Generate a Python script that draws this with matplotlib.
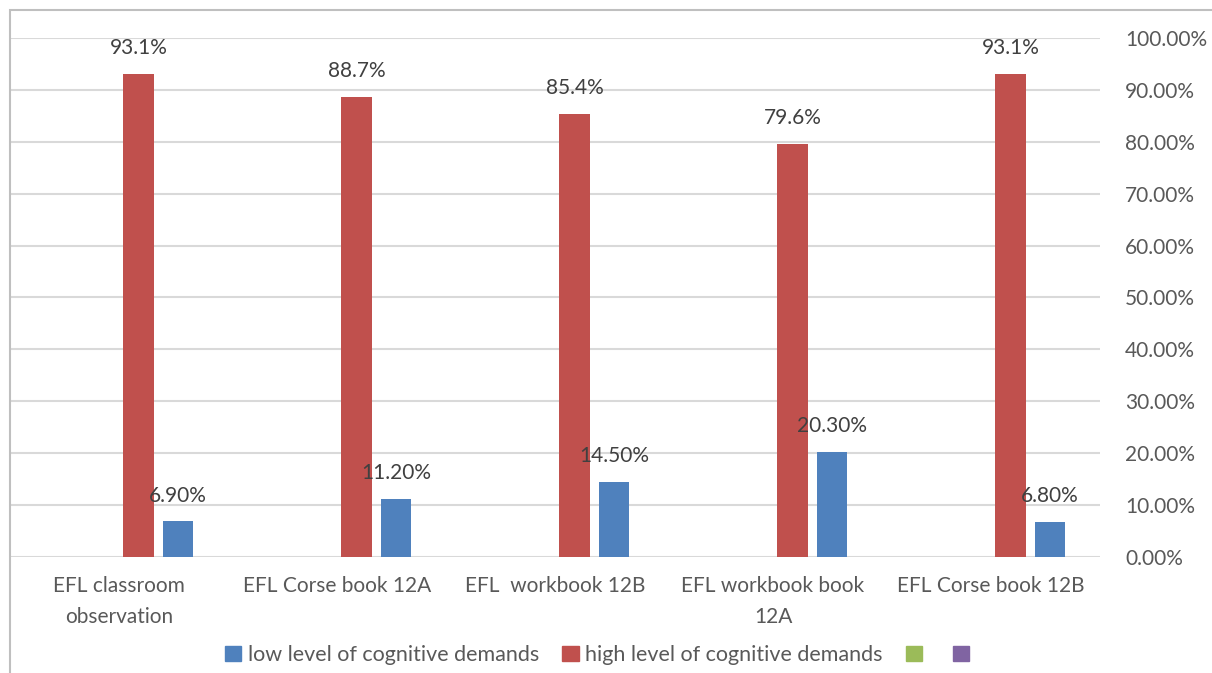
import matplotlib.pyplot as plt
import numpy as np
from matplotlib.patches import Rectangle, Patch

categories = ["EFL classroom\nobservation", "EFL Corse book 12A", "EFL  workbook 12B",
              "EFL workbook book\n12A", "EFL Corse book 12B"]
low = [0.069, 0.112, 0.145, 0.203, 0.068]
high = [0.931, 0.887, 0.854, 0.796, 0.931]
low_labels = ["6.90%", "11.20%", "14.50%", "20.30%", "6.80%"]
high_labels = ["93.1%", "88.7%", "85.4%", "79.6%", "93.1%"]
yticks = np.arange(0, 1.01, 0.1)

plt.rcParams['font.family'] = ['Lato', 'DejaVu Sans']
txt = '#595959'
fs = 15

fig = plt.figure(figsize=(12.12, 6.73), dpi=100)
W, H = 1212, 673
ax = fig.add_axes([10/W, 1 - 557/H, 1090/W, (557 - 38)/H])

x = np.arange(len(categories))
bw = 0.14
ax.bar(x + 0.09, high, bw, color='#c0504d', zorder=3)
ax.bar(x + 0.27, low, bw, color='#4f81bd', zorder=3)

for i in range(len(x)):
    ax.text(x[i] + 0.09, high[i] + 0.03, high_labels[i], ha='center', va='bottom',
            fontsize=fs, color='#404040', zorder=4)
    ax.text(x[i] + 0.27, low[i] + 0.03, low_labels[i], ha='center', va='bottom',
            fontsize=fs, color='#404040', zorder=4)

ax.set_xlim(-0.5, len(x) - 0.5)
ax.set_ylim(0, 1)
ax.set_yticks(yticks)
ax.set_yticklabels([f"{v*100:.2f}%" for v in yticks])
ax.yaxis.tick_right()
ax.tick_params(axis='y', length=0, pad=18, labelsize=fs, labelcolor=txt)
for lab in ax.get_yticklabels():
    lab.set_horizontalalignment('left')
ax.set_xticks(x)
ax.set_xticklabels(categories, linespacing=1.65)
ax.tick_params(axis='x', length=0, pad=14, labelsize=fs, labelcolor=txt)
ax.grid(axis='y', color='#d9d9d9', linewidth=1.5, zorder=0)
for s in ax.spines.values():
    s.set_visible(False)

# outer chart border
fig.patches.append(Rectangle((10/W, -0.1), 1.2, 1 - 10/H + 0.1, transform=fig.transFigure,
                             fill=False, edgecolor='#bfbfbf', linewidth=1.5))

handles = [Patch(color='#4f81bd'), Patch(color='#c0504d'), Patch(color='#9bbb59'), Patch(color='#8064a2')]
labels = ["low level of cognitive demands", "high level of cognitive demands", "", ""]
fig.legend(handles, labels, loc='center', bbox_to_anchor=(600/W, 1 - 655/H), ncol=4, frameon=False,
           fontsize=fs + 0.5, labelcolor=txt, handlelength=0.75, handleheight=0.75, handletextpad=0.3,
           columnspacing=1.1)

fig.savefig('out.png', dpi=100)
